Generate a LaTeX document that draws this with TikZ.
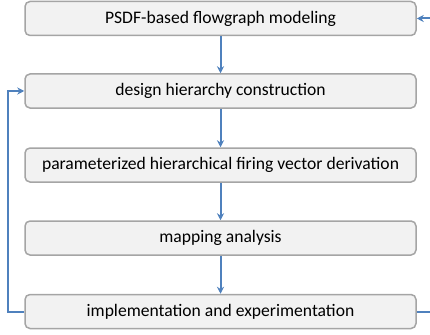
\documentclass[tikz,border=0pt]{standalone}
\usepackage{fontspec}
\setmainfont{Carlito}
\usetikzlibrary{arrows.meta}
\definecolor{flowblue}{RGB}{79,129,189}
\definecolor{boxfill}{RGB}{242,242,242}
\definecolor{boxline}{RGB}{165,165,165}
\begin{document}
\begin{tikzpicture}[x=1pt,y=-1pt,
  stepbox/.style={draw=boxline, fill=boxfill, line width=1.5pt, rounded corners=5pt,
    minimum width=391pt, minimum height=34pt, inner sep=0pt, font=\fontsize{17.6}{20}\selectfont},
  flow/.style={draw=flowblue, line width=2pt, -{Stealth[length=7pt,width=7pt]}}]
  \useasboundingbox (0,0) rectangle (430,334);
  \clip (0,0) rectangle (430,334);
  % process steps, top to bottom
  \node[stepbox] (s1) at (220.5,18.5) {PSDF-based flowgraph modeling};
  \node[stepbox] (s2) at (220.5,91) {design hierarchy construction};
  \node[stepbox] (s3) at (220.5,165) {parameterized hierarchical firing vector derivation};
  \node[stepbox] (s4) at (220.5,238) {mapping analysis};
  \node[stepbox] (s5) at (220.5,311.5) {implementation and experimentation};
  % forward flow
  \draw[flow] (s1) -- (s2);
  \draw[flow] (s2) -- (s3);
  \draw[flow] (s3) -- (s4);
  \draw[flow] (s4) -- (s5);
  % feedback loops; the right one runs just past the right edge
  \coordinate (lx) at (8,0);
  \coordinate (rx) at (436,0);
  \draw[flow] (s5.west) -- (s5.west -| lx) -- (s2.west -| lx) -- (s2.west);
  \draw[flow] (s5.east) -- (s5.east -| rx) -- (s1.east -| rx) -- (s1.east);
\end{tikzpicture}
\end{document}
